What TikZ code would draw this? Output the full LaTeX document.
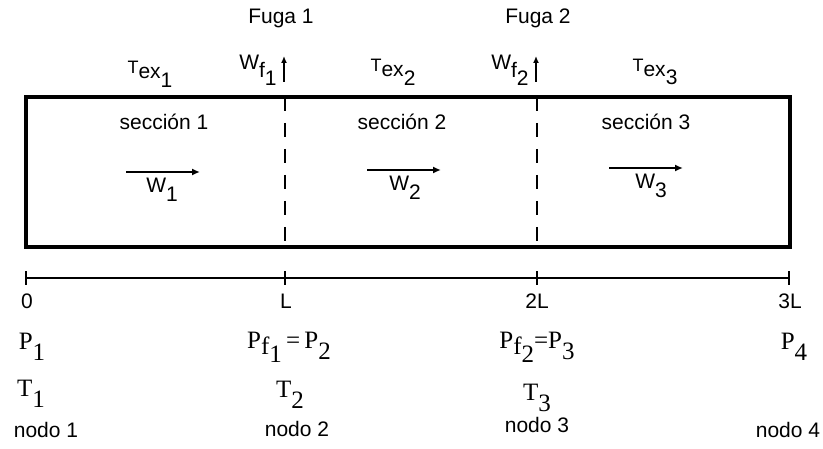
\documentclass[tikz,border=0pt]{standalone}
\usepackage{fontspec}
\setmainfont{Liberation Sans}
\newfontfamily\pfont{Liberation Serif}
\usetikzlibrary{arrows.meta}
% lowered subscript at full size
\newcommand{\lowr}[2]{#1\raisebox{-0.45em}{#2}}
\tikzset{
  lbl/.style={inner sep=0pt, font=\fontsize{21}{24}\selectfont},
  plbl/.style={inner sep=0pt, font=\fontsize{25}{28}\selectfont\pfont},
  flow/.style={line width=1.6pt, -{Latex[length=8pt,width=7pt]}},
  leak/.style={line width=1.6pt, -{Latex[length=7pt,width=6pt]}},
  cut/.style={line width=1.8pt, dash pattern=on 14pt off 12pt},
  axis/.style={line width=1.6pt},
}
\begin{document}
\begin{tikzpicture}[x=1pt,y=-1pt]
\useasboundingbox (0,0) rectangle (823,449);
% pipe body
\node (box) [draw, line width=4.5pt, minimum width=764pt, minimum height=150pt, inner sep=0pt] at (408,172) {};
% section boundaries
\coordinate (c1t) at (285,97); \coordinate (c1b) at (285,247);
\coordinate (c2t) at (537,97); \coordinate (c2b) at (537,247);
\draw[cut] (c1t) -- (c1b);
\draw[cut] (c2t) -- (c2b);
% leaks
\coordinate (l1a) at (284,82); \coordinate (l1b) at (284,56);
\coordinate (l2a) at (536,82); \coordinate (l2b) at (536,56);
\draw[leak] (l1a) -- (l1b);
\draw[leak] (l2a) -- (l2b);
\node[lbl] (fuga1) at (281,18) {Fuga 1};
\node[lbl] (fuga2) at (538,18) {Fuga 2};
\node[lbl] (wf1) at (258,70) {W\raisebox{-0.4em}{f\raisebox{-0.35em}{1}}};
\node[lbl] (wf2) at (510,70) {W\raisebox{-0.4em}{f\raisebox{-0.35em}{2}}};
\node[lbl] (tex1) at (150,74) {\raisebox{0.25em}{\fontsize{18}{20}\selectfont T}ex\raisebox{-0.4em}{1}};
\node[lbl] (tex2) at (393,72) {\raisebox{0.25em}{\fontsize{18}{20}\selectfont T}ex\raisebox{-0.4em}{2}};
\node[lbl] (tex3) at (655,72) {\raisebox{0.25em}{\fontsize{18}{20}\selectfont T}ex\raisebox{-0.4em}{3}};
% sections
\node[lbl] (s1) at (164,122) {sección 1};
\node[lbl] (s2) at (402,122) {sección 2};
\node[lbl] (s3) at (646,122) {sección 3};
% flows
\coordinate (f1a) at (126,172); \coordinate (f1b) at (200,172);
\coordinate (f2a) at (367,170); \coordinate (f2b) at (441,170);
\coordinate (f3a) at (609,168); \coordinate (f3b) at (683,168);
\draw[flow] (f1a) -- (f1b);
\draw[flow] (f2a) -- (f2b);
\draw[flow] (f3a) -- (f3b);
\node[lbl] (w1) at (162,190) {\lowr{W}{1}};
\node[lbl] (w2) at (405,188) {\lowr{W}{2}};
\node[lbl] (w3) at (651,186) {\lowr{W}{3}};
% axis
\coordinate (a0) at (26,278); \coordinate (a1) at (285,278);
\coordinate (a2) at (537,278); \coordinate (a3) at (789,278);
\draw[axis] (a0) -- (a3);
\foreach \p in {a0,a1,a2,a3} \draw[axis] ([yshift=-7pt]\p) -- ([yshift=7pt]\p);
\node[lbl] (x0) at (27,301) {0};
\node[lbl] (x1) at (286,301) {L};
\node[lbl] (x2) at (537,301) {2L};
\node[lbl] (x3) at (790,301) {3L};
% node variables
\node[plbl] (p1) at (32,347) {\lowr{P}{1}};
\node[plbl] (p2) at (289,347) {P\raisebox{-0.25em}{f\raisebox{-0.3em}{1}}\,=\,\lowr{P}{2}};
\node[plbl] (p3) at (537,347) {P\raisebox{-0.25em}{f\raisebox{-0.3em}{2}}=\lowr{P}{3}};
\node[plbl] (p4) at (794,347) {\lowr{P}{4}};
\node[plbl] (t1) at (31,394) {\lowr{T}{1}};
\node[plbl] (t2) at (290,395) {\lowr{T}{2}};
\node[plbl] (t3) at (537,398) {\lowr{T}{3}};
\node[lbl] (n1) at (46,430) {nodo 1};
\node[lbl] (n2) at (297,429) {nodo 2};
\node[lbl] (n3) at (537,425) {nodo 3};
\node[lbl] (n4) at (788,430) {nodo 4};
\end{tikzpicture}
\end{document}
